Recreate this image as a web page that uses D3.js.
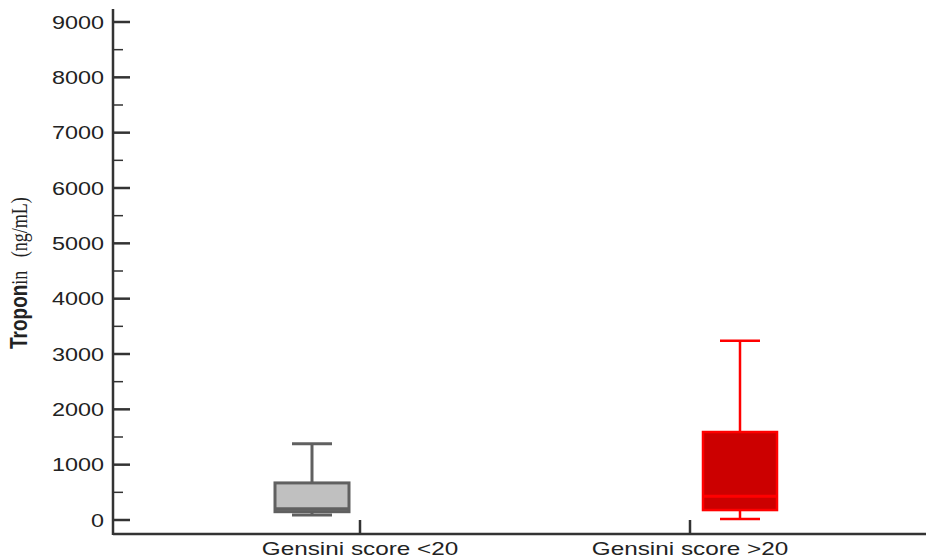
<!DOCTYPE html>
<html>
<head>
<meta charset="utf-8">
<script src="https://cdn.jsdelivr.net/npm/d3@7"></script>
<style>
  body { margin: 0; background: #fff; }
  text { font-family: Arial, "Liberation Sans", sans-serif; }
</style>
</head>
<body>
<div id="chart"></div>
<script>
const groups = ["Gensini score <20", "Gensini score >20"];
const whiskerLow = [90, 20];
const q1 = [150, 180];
const median = [200, 430];
const q3 = [670, 1590];
const whiskerHigh = [1380, 3240];
const boxOffset = [-48, 50];
const fills = ["#c0c0c0", "#cc0000"];
const strokes = ["#606060", "#ff0000"];
const yTicks = [0, 1000, 2000, 3000, 4000, 5000, 6000, 7000, 8000, 9000];

const width = 931, height = 560;
const svg = d3.select("#chart").append("svg")
    .attr("width", width)
    .attr("height", height);

const y = d3.scaleLinear().domain([0, 9000]).range([520, 22]);
const x = d3.scalePoint().domain(groups).range([360, 690]);

const axisX = 113, axisBottom = 534;
const ink = "#333";

// y axis
svg.append("line")
    .attr("x1", axisX).attr("x2", axisX)
    .attr("y1", 9).attr("y2", axisBottom + 1)
    .attr("stroke", ink).attr("stroke-width", 2.5);

const minor = d3.range(500, 9000, 1000);
svg.selectAll(".minor").data(minor).enter().append("line")
    .attr("x1", axisX).attr("x2", axisX + 10)
    .attr("y1", d => y(d)).attr("y2", d => y(d))
    .attr("stroke", ink).attr("stroke-width", 1.5);

svg.selectAll(".major").data(yTicks).enter().append("line")
    .attr("x1", axisX).attr("x2", axisX + 17)
    .attr("y1", d => y(d)).attr("y2", d => y(d))
    .attr("stroke", ink).attr("stroke-width", 2.5);

svg.selectAll(".ylab").data(yTicks).enter().append("text")
    .attr("transform", d => `translate(104,${y(d) + 6.5}) scale(1.3,1)`)
    .attr("text-anchor", "end")
    .style("font-size", "18px")
    .attr("fill", "#222")
    .text(d => d);

// x axis
svg.append("line")
    .attr("x1", axisX).attr("x2", 926)
    .attr("y1", axisBottom).attr("y2", axisBottom)
    .attr("stroke", ink).attr("stroke-width", 2.5);

svg.selectAll(".xtick").data(groups).enter().append("line")
    .attr("x1", d => x(d)).attr("x2", d => x(d))
    .attr("y1", axisBottom).attr("y2", axisBottom - 14)
    .attr("stroke", ink).attr("stroke-width", 2.5);

svg.selectAll(".xlab").data(groups).enter().append("text")
    .attr("transform", d => `translate(${x(d)},555) scale(1.35,1)`)
    .attr("text-anchor", "middle")
    .style("font-size", "18px")
    .attr("fill", "#222")
    .text(d => d);

// y label
const yl = svg.append("text")
    .attr("transform", "translate(27,349) scale(1.3,1) rotate(-90)")
    .attr("fill", "#222");
yl.append("tspan").style("font-weight", "bold").style("font-size", "19px").text("Tropon");
yl.append("tspan").style("font-family", "'Liberation Serif', serif").style("font-size", "18px").text("in\u00a0\u00a0\u00a0(ng/mL)");

// boxes
const boxW = 74, capW = 40;
groups.forEach((g, i) => {
    const cx = x(g) + boxOffset[i];
    const sw = i === 0 ? 3 : 2.5;
    const gEl = svg.append("g");
    gEl.append("line")
        .attr("x1", cx).attr("x2", cx)
        .attr("y1", y(whiskerHigh[i])).attr("y2", y(q3[i]))
        .attr("stroke", strokes[i]).attr("stroke-width", sw);
    gEl.append("line")
        .attr("x1", cx).attr("x2", cx)
        .attr("y1", y(q1[i])).attr("y2", y(whiskerLow[i]))
        .attr("stroke", strokes[i]).attr("stroke-width", sw);
    [whiskerHigh[i], whiskerLow[i]].forEach(v => {
        gEl.append("line")
            .attr("x1", cx - capW / 2).attr("x2", cx + capW / 2)
            .attr("y1", y(v)).attr("y2", y(v))
            .attr("stroke", strokes[i]).attr("stroke-width", sw);
    });
    gEl.append("rect")
        .attr("x", cx - boxW / 2).attr("width", boxW)
        .attr("y", y(q3[i])).attr("height", y(q1[i]) - y(q3[i]))
        .attr("fill", fills[i])
        .attr("stroke", strokes[i]).attr("stroke-width", sw);
    gEl.append("line")
        .attr("x1", cx - boxW / 2).attr("x2", cx + boxW / 2)
        .attr("y1", y(median[i])).attr("y2", y(median[i]))
        .attr("stroke", strokes[i]).attr("stroke-width", sw + 0.5);
});
</script>
</body>
</html>
